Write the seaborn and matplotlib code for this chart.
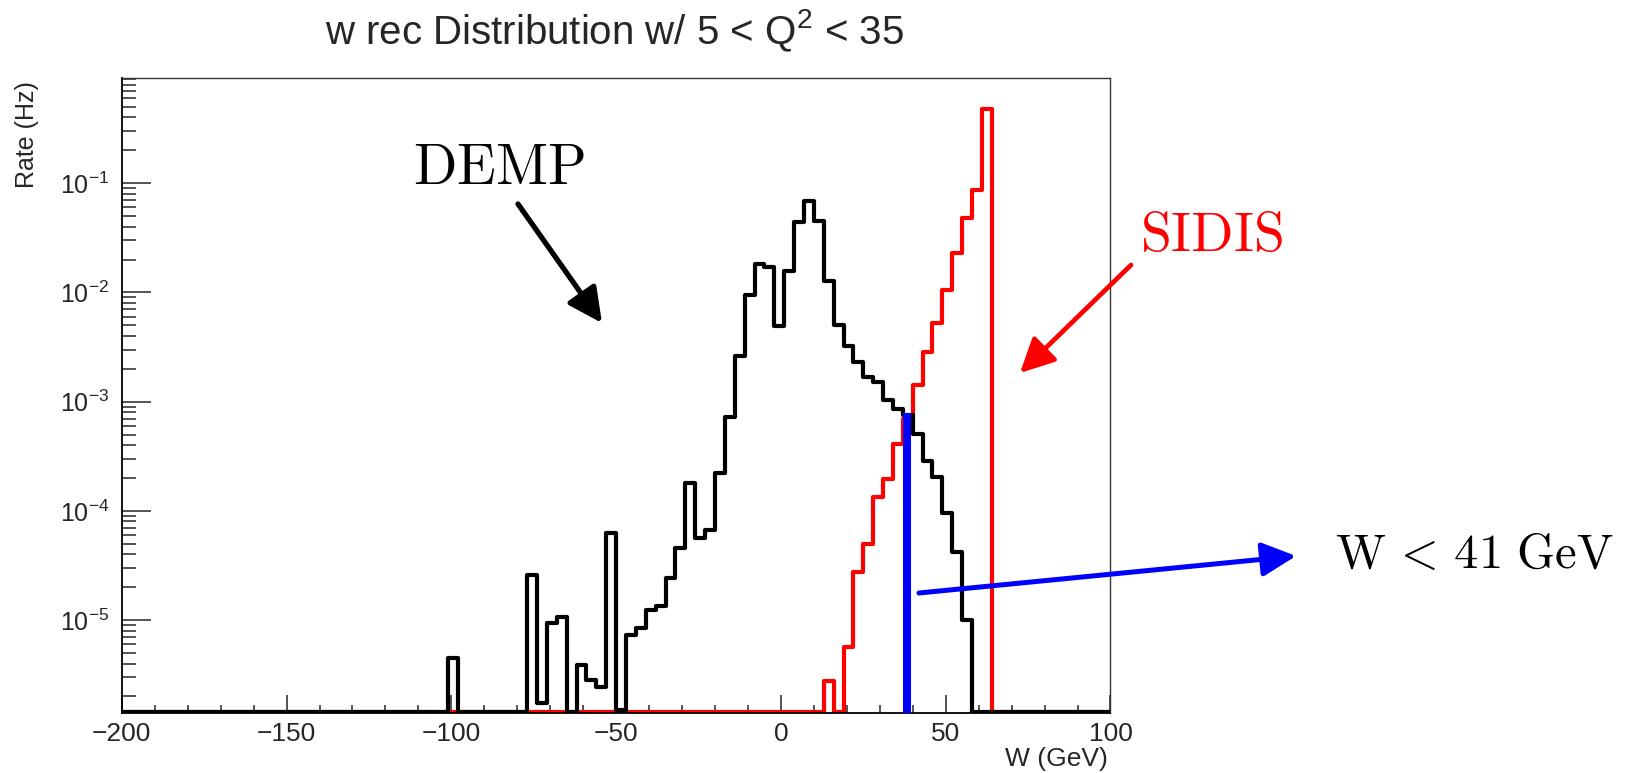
import matplotlib
matplotlib.use("Agg")
import matplotlib.pyplot as plt
import numpy as np
import seaborn as sns
from matplotlib.ticker import LogLocator, MultipleLocator, NullFormatter

# histogram binning: 100 bins of 3 GeV from -200 to 100
W_MIN, W_MAX, W_STEP = -200, 100, 3

# DEMP (black): left bin edge (GeV) and rate (Hz), bins not listed are empty
demp_left = [-101, -77, -74, -71, -68, -62, -59, -56, -53, -50, -47, -44,
             -41, -38, -35, -32, -29, -26, -23, -20, -17, -14, -11, -8, -5,
             -2, 1, 4, 7, 10, 13, 16, 19, 22, 25, 28, 31, 34, 37, 40, 43,
             46, 49, 52, 55]
demp_rate = [4.5e-6, 2.57e-5, 1.73e-6, 9.35e-6, 1.06e-5, 3.85e-6, 2.82e-6,
             2.43e-6, 6.3e-5, 1.5e-6, 7.3e-6, 8.4e-6, 1.24e-5, 1.35e-5,
             2.42e-5, 4.54e-5, 1.79e-4, 5.6e-5, 6.7e-5, 2.24e-4, 7.2e-4,
             2.61e-3, 9.5e-3, 1.82e-2, 1.72e-2, 4.9e-3, 1.58e-2, 4.42e-2,
             6.84e-2, 4.55e-2, 1.28e-2, 5.07e-3, 3.21e-3, 2.31e-3, 1.68e-3,
             1.51e-3, 1.04e-3, 8.5e-4, 7.55e-4, 5.06e-4, 2.88e-4, 2.03e-4,
             9.5e-5, 4.18e-5, 1.0e-5]

# SIDIS (red)
sidis_left = [13, 19, 22, 25, 28, 31, 34, 37, 40, 43, 46, 49, 52, 55, 58, 61]
sidis_rate = [2.79e-6, 5.64e-6, 2.77e-5, 4.98e-5, 1.33e-4, 1.95e-4, 4.1e-4,
              7.0e-4, 1.43e-3, 2.85e-3, 5.26e-3, 1.06e-2, 2.30e-2, 4.81e-2,
              8.74e-2, 0.482]

# W cut marker (blue)
cut_w = 38.3
cut_top = 7.8e-4

Y_LIM = (1.40e-6, 0.92)

TITLE = "w rec Distribution w/ 5 < Q$^{2}$ < 35"
X_LABEL = "W (GeV)"
Y_LABEL = "Rate (Hz)"

FIG_W, FIG_H = 1628, 773


def fill_bins(left, rate, edges, floor):
    full = np.full(len(edges) - 1, floor)
    idx = np.rint((np.asarray(left) - edges[0]) / W_STEP).astype(int)
    full[idx] = np.maximum(rate, floor)
    return full


def fig_xy(x, y):
    # pixel position measured from the top-left corner -> figure fraction
    return x / FIG_W, 1 - y / FIG_H


def main():
    sns.set_style("ticks")
    plt.rcParams["font.family"] = ["Liberation Sans", "DejaVu Sans"]
    plt.rcParams["mathtext.fontset"] = "custom"
    plt.rcParams["mathtext.rm"] = "Liberation Sans"
    plt.rcParams["mathtext.it"] = "Liberation Sans:italic"
    plt.rcParams["mathtext.bf"] = "Liberation Sans:bold"

    edges = np.arange(W_MIN, W_MAX + 1, W_STEP).astype(float)
    centers = edges[:-1] + W_STEP / 2
    # empty bins sit on the bottom of the frame, like ROOT draws them
    floor = Y_LIM[0] * 1.035
    demp_full = fill_bins(demp_left, demp_rate, edges, floor)
    sidis_full = fill_bins(sidis_left, sidis_rate, edges, floor)

    fig = plt.figure(figsize=(FIG_W / 100, FIG_H / 100), dpi=100)
    ax = fig.add_axes([0.0748, 0.0772, 0.6073, 0.8219])
    ax.set_yscale("log")

    for rates, color in [(sidis_full, "#ff0000"), (demp_full, "black")]:
        sns.histplot(x=centers, weights=rates, binwidth=W_STEP,
                     binrange=(W_MIN, W_MAX), element="step", fill=False,
                     color=color, linewidth=3.0, ax=ax)
    ax.vlines(cut_w, Y_LIM[0], cut_top, color="#0000ff", linewidth=5.8, zorder=5)

    ax.set_xlim(W_MIN, W_MAX)
    ax.set_ylim(*Y_LIM)
    ax.set_xlabel("")
    ax.set_ylabel("")

    ax.xaxis.set_major_locator(MultipleLocator(50))
    ax.xaxis.set_minor_locator(MultipleLocator(10))
    ax.yaxis.set_major_locator(LogLocator(base=10, numticks=20))
    ax.yaxis.set_minor_locator(LogLocator(base=10, subs=np.arange(2, 10), numticks=20))
    ax.yaxis.set_minor_formatter(NullFormatter())
    ax.tick_params(axis="x", which="major", direction="in", length=13, width=1.1,
                   labelsize=19, pad=6, top=False)
    ax.tick_params(axis="x", which="minor", direction="in", length=6, width=1.1, top=False)
    ax.tick_params(axis="y", which="major", direction="in", length=21, width=1.1,
                   labelsize=18, pad=9, right=False)
    ax.tick_params(axis="y", which="minor", direction="in", length=10, width=1.1, right=False)
    for side in ["left", "bottom"]:
        ax.spines[side].set_linewidth(1.3)
        ax.spines[side].set_color("black")
    for side in ["top", "right"]:
        ax.spines[side].set_linewidth(1.0)
        ax.spines[side].set_color("#333333")

    fig.text(*fig_xy(615, 31), TITLE, fontsize=29, ha="center", va="center")
    fig.text(*fig_xy(1108, 759), X_LABEL, fontsize=19, ha="right", va="center")
    fig.text(*fig_xy(27, 81), Y_LABEL, fontsize=18, rotation=90,
             ha="center", va="top")

    # annotations in a LaTeX-like serif
    fig.text(*fig_xy(413, 184), r"$\mathrm{DEMP}$", fontsize=41,
             math_fontfamily="cm", ha="left", va="baseline", color="black")
    fig.text(*fig_xy(1140, 251), r"$\mathrm{SIDIS}$", fontsize=40,
             math_fontfamily="cm", ha="left", va="baseline", color="#ff0000")
    fig.text(*fig_xy(1335, 568), r"$\mathrm{W}\,<\,41\ \mathrm{GeV}$", fontsize=35,
             math_fontfamily="cm", ha="left", va="baseline", color="black")

    arrows = [
        ((518, 204), (602, 323), "black", 3.8),
        ((1131, 265), (1020, 373), "#ff0000", 3.4),
        ((919, 593), (1296, 556), "#0000ff", 3.6),
    ]
    for start, end, color, lw in arrows:
        ax.annotate("", xy=fig_xy(*end), xycoords="figure fraction",
                    xytext=fig_xy(*start), textcoords="figure fraction",
                    arrowprops=dict(arrowstyle="-|>", color=color, lw=lw,
                                    mutation_scale=52, shrinkA=0, shrinkB=0),
                    annotation_clip=False, zorder=6)

    fig.savefig("out.png", dpi=100)
    plt.close(fig)


if __name__ == "__main__":
    main()
